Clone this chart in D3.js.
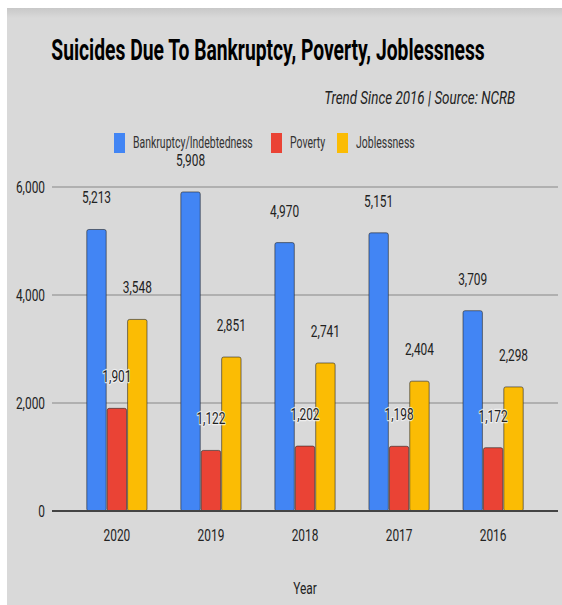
<!DOCTYPE html>
<html>
<head>
<meta charset="utf-8">
<script src="https://cdn.jsdelivr.net/npm/d3@7"></script>
<style>
  body { margin: 0; background: #fff; }
  text { font-family: Roboto, "Liberation Sans", sans-serif; }
</style>
</head>
<body>
<div id="viz"></div>
<script>
var years = ['2020', '2019', '2018', '2017', '2016'];
var seriesNames = ['Bankruptcy/Indebtedness', 'Poverty', 'Joblessness'];
var bankruptcy = [5213, 5908, 4970, 5151, 3709];
var poverty = [1901, 1122, 1202, 1198, 1172];
var joblessness = [3548, 2851, 2741, 2404, 2298];
var yTicks = [0, 2000, 4000, 6000];

var colors = ['#4285f4', '#ea4335', '#fbbc04'];
var width = 562, height = 605;
var sx = 0.7; // text looks squeezed sideways

var svg = d3.select('#viz').append('svg')
    .attr('width', width)
    .attr('height', height);

var defs = svg.append('defs');
var grad = defs.append('linearGradient')
    .attr('id', 'shade').attr('x1', 0).attr('x2', 0).attr('y1', 0).attr('y2', 1);
grad.append('stop').attr('offset', 0).attr('stop-color', '#c8c8c8');
grad.append('stop').attr('offset', 1).attr('stop-color', '#d9d9d9');

svg.append('rect')
    .attr('x', 7).attr('y', 8)
    .attr('width', width - 7).attr('height', height - 8)
    .attr('fill', '#d9d9d9');
svg.append('rect')
    .attr('x', 7).attr('y', 8)
    .attr('width', width - 7).attr('height', 10)
    .attr('fill', 'url(#shade)');

function label(g, x, y, txt, size, anchor, scale) {
    return g.append('text')
        .attr('transform', 'translate(' + x + ',' + y + ') scale(' + (scale || sx) + ',1)')
        .attr('text-anchor', anchor || 'middle')
        .attr('font-size', size)
        .attr('fill', '#222')
        .text(txt);
}

label(svg, 268, 60, 'Suicides Due To Bankruptcy, Poverty, Joblessness', 29, 'middle', 0.665)
    .attr('font-weight', 'bold').attr('fill', '#000');
label(svg, 515, 104, 'Trend Since 2016 | Source: NCRB', 18, 'end', 0.745)
    .attr('font-style', 'italic');

// legend
var legendX = [114, 271, 337];
var legend = svg.append('g');
seriesNames.forEach(function (s, i) {
    legend.append('rect')
        .attr('x', legendX[i]).attr('y', 133)
        .attr('width', 11).attr('height', 20)
        .attr('fill', colors[i]);
    label(legend, legendX[i] + 19, 148, s, 16, 'start', 0.655).attr('fill', '#333');
});

var plotLeft = 52, plotRight = 558;

var yScale = d3.scaleLinear()
    .domain([0, 6000])
    .range([511, 187]);

var xScale = d3.scaleBand()
    .domain(years)
    .range([plotLeft, plotRight])
    .paddingInner(0.36)
    .paddingOuter(0.37);

var inner = d3.scaleBand()
    .domain(d3.range(3))
    .range([0, xScale.bandwidth()])
    .paddingInner(0.05);

// grid
yTicks.forEach(function (t) {
    if (t > 0) {
        svg.append('line')
            .attr('x1', plotLeft).attr('x2', plotRight)
            .attr('y1', yScale(t)).attr('y2', yScale(t))
            .attr('stroke', '#b0b0b0').attr('stroke-width', 2);
    }
    label(svg, 45, yScale(t) + 6, d3.format(',')(t), 17, 'end');
});

var table = years.map(function (y, i) {
    return { year: y, values: [bankruptcy[i], poverty[i], joblessness[i]] };
});

var groups = svg.selectAll('g.year').data(table)
    .enter().append('g')
    .attr('class', 'year')
    .attr('transform', function (d) { return 'translate(' + xScale(d.year) + ',0)'; });

groups.selectAll('rect').data(function (d) { return d.values; })
    .enter().append('rect')
    .attr('x', function (d, i) { return inner(i); })
    .attr('y', function (d) { return yScale(d); })
    .attr('width', inner.bandwidth())
    .attr('height', function (d) { return yScale(0) - yScale(d); })
    .attr('rx', 2)
    .attr('fill', function (d, i) { return colors[i]; })
    .attr('stroke', 'rgba(40,40,40,0.6)')
    .attr('stroke-width', 1);

// baseline
svg.append('line')
    .attr('x1', plotLeft).attr('x2', plotRight)
    .attr('y1', yScale(0)).attr('y2', yScale(0))
    .attr('stroke', '#444').attr('stroke-width', 2);

// data labels
groups.each(function (d) {
    var g = d3.select(this);
    d.values.forEach(function (v, i) {
        label(g, inner(i) + inner.bandwidth() / 2, yScale(v) - 26, d3.format(',')(v), 17)
            .attr('stroke', i === 1 ? 'rgba(245,245,245,0.75)' : 'none')
            .attr('stroke-width', 2.5)
            .attr('stroke-linejoin', 'round')
            .attr('paint-order', 'stroke');
    });
});

// x axis labels
years.forEach(function (y) {
    label(svg, xScale(y) + xScale.bandwidth() / 2, 541, y, 17);
});

label(svg, (plotLeft + plotRight) / 2, 594, 'Year', 17);
</script>
</body>
</html>
